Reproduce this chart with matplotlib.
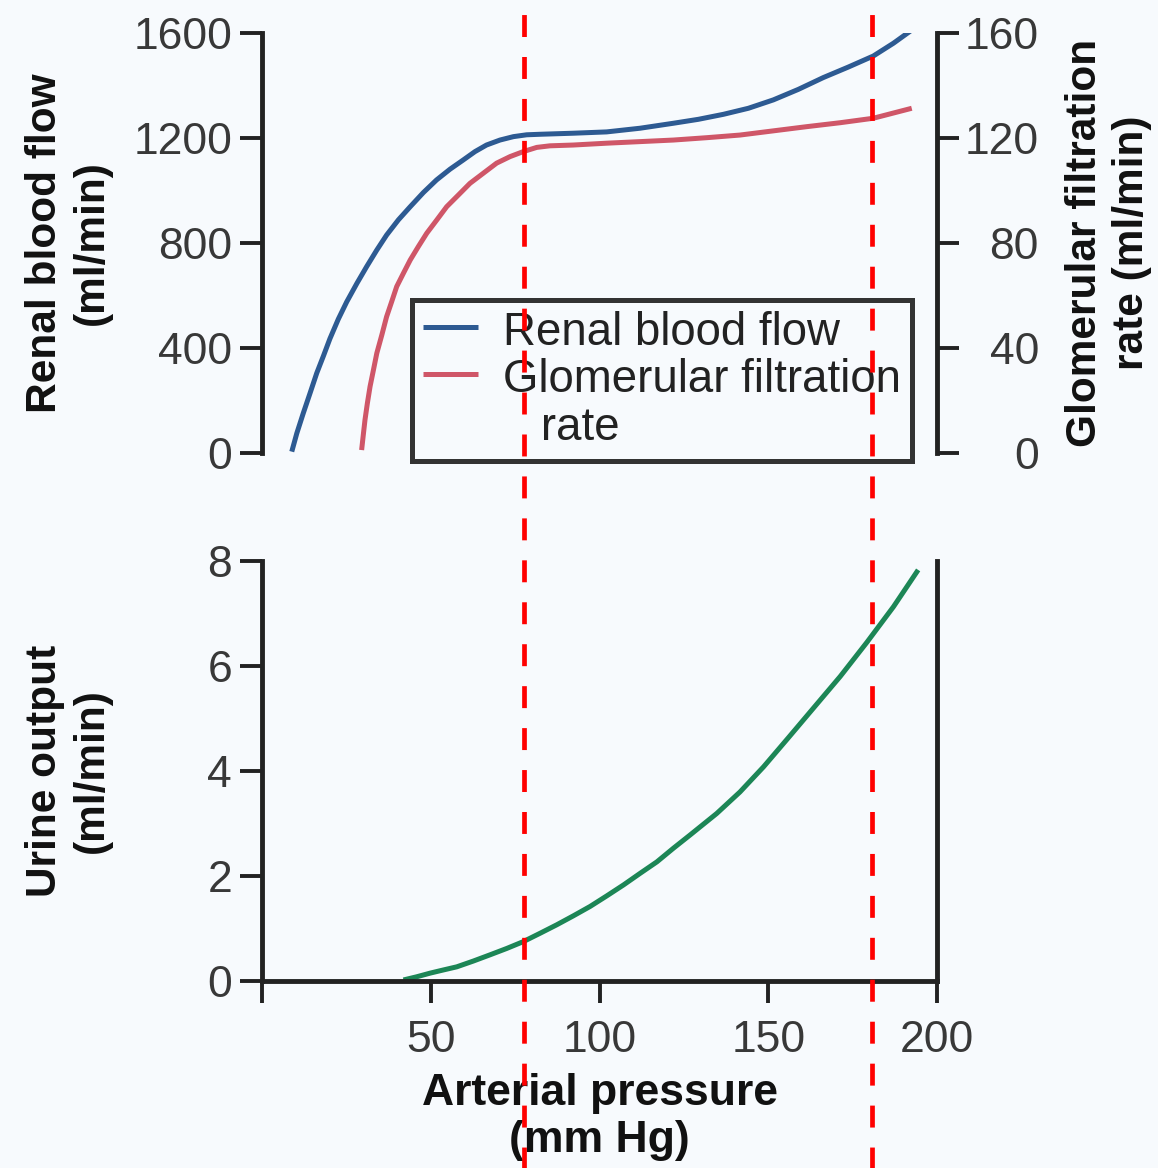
import matplotlib
matplotlib.use("Agg")
import matplotlib.pyplot as plt

# ---- data ----
rbf_pressure = [8.8, 10.3, 12.2, 14.2, 16.2, 18.2, 20.1, 22.6, 25.1, 28.1, 31.0, 34.0, 36.9,
                40.4, 43.9, 47.8, 51.7, 55.7, 59.6, 63.1, 66.5, 70.5, 74.5, 78.4, 82.4,
                92.2, 102.1, 112, 121.9, 129.3, 136.7, 144.1, 151.5, 158.9, 166.3, 173.7,
                181.1, 187.1, 192.5]
rbf_values = [5, 75, 151, 227, 304, 370, 435, 510, 576, 646, 710, 773, 830,
              888, 938, 992, 1040, 1081, 1116, 1148, 1173, 1192, 1205, 1212, 1214,
              1218, 1223, 1237, 1256, 1271, 1290, 1313, 1345, 1385, 1430, 1470,
              1512, 1561, 1611]

gfr_pressure = [29.5, 30.0, 30.5, 31.2, 32.0, 33.0, 34.0, 35.5, 36.9, 38.4, 39.9, 41.9, 43.9,
                46.3, 48.8, 51.8, 54.7, 58.2, 61.6, 65.6, 69.5, 73.5, 77.4, 81.4, 85.3,
                92.2, 102.1, 112, 121.9, 131.8, 141.6, 151.5, 161.4, 171.3, 181.1, 192.5]
gfr_values = [1.1, 6.9, 12.6, 18.9, 25.3, 31.6, 38.0, 45.0, 51.9, 57.6, 63.4, 68.5, 73.5,
              78.6, 83.7, 88.8, 93.8, 98.3, 102.7, 106.6, 110.4, 112.9, 114.8, 116.4, 117.0,
              117.3, 118.0, 118.6, 119.2, 120.1, 121.1, 122.7, 124.3, 125.8, 127.5, 131.3]

urine_pressure = [41.9, 45.8, 49.8, 53.7, 57.7, 62.6, 67.6, 72.5, 77.4, 82.4, 87.3, 92.2,
                  97.2, 102.1, 107.1, 112, 117, 121.9, 126.8, 134.7, 141.6, 148.6, 155.9,
                  163.4, 171.3, 179.2, 187.1, 194.4]
urine_values = [0.02, 0.08, 0.15, 0.21, 0.27, 0.38, 0.50, 0.62, 0.75, 0.91, 1.07, 1.24,
                1.42, 1.62, 1.83, 2.05, 2.27, 2.53, 2.78, 3.19, 3.60, 4.08, 4.63,
                5.20, 5.80, 6.45, 7.13, 7.83]

autoreg_limits = [77.6, 180.7]

rbf_ticks = [0, 400, 800, 1200, 1600]
gfr_ticks = [0, 40, 80, 120, 160]
urine_ticks = [0, 2, 4, 6, 8]
x_ticks = [0, 50, 100, 150, 200]
x_ticklabels = ["", "50", "100", "150", "200"]

# ---- style ----
plt.rcParams['font.family'] = ['Liberation Sans', 'DejaVu Sans']
plt.rcParams['lines.scale_dashes'] = False
BG = '#f7fafd'
SPINE = '#222222'
TXT = '#383838'
LW_SPINE = 3.5
TICK_LEN = 15.8
TICK_W = 2.8
TICK_FS = 32
LABEL_FS = 30.5

fig = plt.figure(figsize=(11.58, 11.68), dpi=100, facecolor=BG)
ax_top = fig.add_axes([0.2263, 0.6122, 0.5829, 0.3596])
ax_gfr = ax_top.twinx()
ax_bot = fig.add_axes([0.2263, 0.1601, 0.5829, 0.3596])

for a in (ax_top, ax_gfr, ax_bot):
    a.set_facecolor('none')
    a.set_xlim(0, 200)
    for s in a.spines.values():
        s.set_linewidth(LW_SPINE)
        s.set_color(SPINE)
    a.tick_params(direction='out', length=TICK_LEN, width=TICK_W, color=SPINE,
                  labelsize=TICK_FS, labelcolor=TXT)

# top panel
l1, = ax_top.plot(rbf_pressure, rbf_values, color='#2d5a92', lw=3.6,
                  solid_capstyle='butt', solid_joinstyle='round', label='Renal blood flow')
l2, = ax_gfr.plot(gfr_pressure, gfr_values, color='#cf5668', lw=3.6,
                  solid_capstyle='butt', solid_joinstyle='round',
                  label='Glomerular filtration\n   rate')
ax_top.set_ylim(0, 1600)
ax_gfr.set_ylim(0, 160)
ax_top.set_yticks(rbf_ticks)
ax_gfr.set_yticks(gfr_ticks)
ax_top.spines['top'].set_visible(False)
ax_top.spines['bottom'].set_visible(False)
ax_top.spines['right'].set_visible(False)
ax_gfr.spines['top'].set_visible(False)
ax_gfr.spines['bottom'].set_visible(False)
ax_gfr.spines['left'].set_visible(False)
ax_top.tick_params(axis='x', bottom=False, labelbottom=False)
ax_gfr.tick_params(axis='x', bottom=False, labelbottom=False)
ax_top.tick_params(axis='y', pad=5.8)
ax_gfr.tick_params(axis='y', pad=57.6)
for t in ax_gfr.get_yticklabels():
    t.set_horizontalalignment('right')

ax_top.set_ylabel('Renal blood flow\n(ml/min)', fontsize=LABEL_FS, fontweight='bold',
                  color='#111111', linespacing=1.2)
ax_top.yaxis.set_label_coords(-0.223, 0.5)
ax_gfr.set_ylabel('Glomerular filtration\nrate (ml/min)', fontsize=LABEL_FS, fontweight='bold',
                  color='#111111', linespacing=1.2, rotation=90)
ax_gfr.yaxis.set_label_coords(1.19, 0.5)

leg = ax_top.legend(handles=[l1, l2], loc='upper left', bbox_to_anchor=(0.222, 0.364),
                    borderaxespad=0, fontsize=32.9, frameon=True, fancybox=False,
                    handlelength=1.2, handletextpad=0.55, borderpad=0.24,
                    labelspacing=0.06)
leg.get_frame().set_edgecolor('#333333')
leg.get_frame().set_linewidth(3.6)
leg.get_frame().set_facecolor(BG)
leg.get_frame().set_alpha(1)
for t in leg.get_texts():
    t.set_color('#222222')
    t.set_linespacing(1.13)
# put the handle of the two-line entry next to its first line
for col in leg._legend_handle_box.get_children():
    for item in col.get_children():
        item.align = 'top'

# bottom panel
ax_bot.plot(urine_pressure, urine_values, color='#1c8656', lw=3.6,
            solid_capstyle='butt', solid_joinstyle='round')
ax_bot.set_ylim(0, 8)
ax_bot.set_yticks(urine_ticks)
ax_bot.set_xticks(x_ticks)
ax_bot.set_xticklabels(x_ticklabels)
ax_bot.spines['top'].set_visible(False)
ax_bot.tick_params(axis='y', pad=5.8)
ax_bot.tick_params(axis='x', pad=12)
ax_bot.set_ylabel('Urine output\n(ml/min)', fontsize=LABEL_FS, fontweight='bold',
                  color='#111111', linespacing=1.2)
ax_bot.yaxis.set_label_coords(-0.223, 0.5)
ax_bot.set_xlabel('Arterial pressure\n(mm Hg)', fontsize=32, fontweight='bold',
                  color='#111111', linespacing=1.2)
ax_bot.xaxis.set_label_coords(0.5, -0.219)

# autoregulation range markers spanning the whole figure
for xv in autoreg_limits:
    ax_bot.axvline(xv, ymin=-0.46, ymax=2.34, clip_on=False, color='#ff0000', lw=3.4,
                   dashes=(15.8, 14.4), zorder=10)

fig.savefig('out.png', dpi=100, facecolor=BG)
